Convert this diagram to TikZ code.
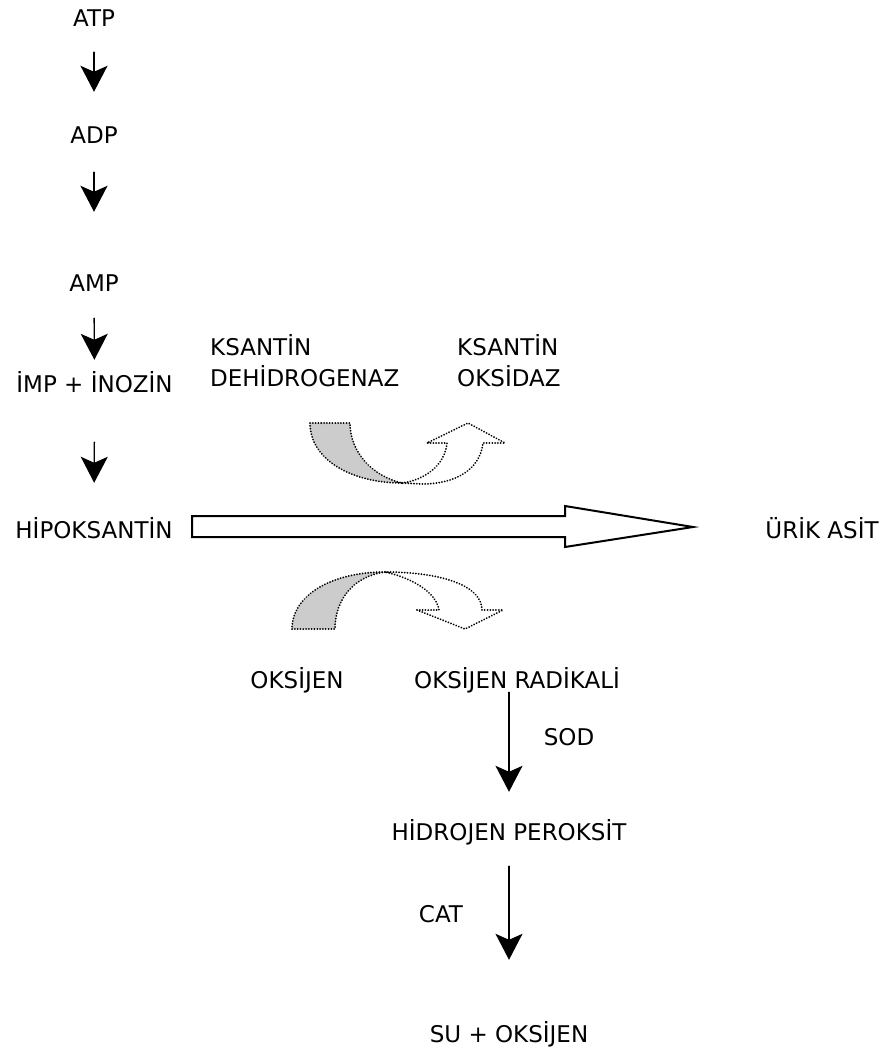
\documentclass[tikz,border=0pt]{standalone}
\usepackage{fontspec}
\setmainfont{DejaVu Sans}
\usetikzlibrary{arrows.meta}
\tikzset{
  lbl/.style={inner sep=0pt,text height=17pt,text depth=0pt,font=\fontsize{23}{31}\selectfont},
  mlbl/.style={inner sep=0pt,align=left,anchor=base west,font=\fontsize{23}{31}\selectfont},
  dnarr/.style={line width=1.4pt,-{Stealth[length=26pt,width=27pt,inset=6pt]}},
  enzfill/.style={line width=2pt,dash pattern=on 0.01pt off 2.8pt,fill=black!20},
  enzopen/.style={line width=2pt,dash pattern=on 0.01pt off 2.8pt,fill=white},
}
\begin{document}
\begin{tikzpicture}[x=1pt,y=-1pt,line cap=round,line join=round]
  \useasboundingbox (0,0) rectangle (886,1048);
  % left column
  \node[lbl] (atp) at (94,18.5) {ATP};
  \node[lbl] (adp) at (94,135) {ADP};
  \node[lbl] (amp) at (94,283) {AMP};
  \node[lbl] (imp) at (94.5,384) {İMP + İNOZİN};
  \node[lbl] (hipo) at (94,530) {HİPOKSANTİN};
  \node[lbl] (urik) at (822,530) {ÜRİK ASİT};
  \draw[dnarr,shorten <=25pt,shorten >=34.5pt] (atp) -- (adp);
  \draw[dnarr,shorten <=28.5pt,shorten >=62.5pt] (adp) -- (amp);
  \draw[dnarr,shorten <=26.5pt,shorten >=15.5pt] (amp) -- (imp);
  \draw[dnarr,shorten <=49.5pt,shorten >=38.5pt] (imp) -- (hipo);
  % main hollow arrow
  \draw[line width=2pt,line cap=butt,line join=miter] (192,516) -- (565,516) -- (565,506) -- (693,527)
    -- (565,547) -- (565,537) -- (192,537) -- cycle;
  % enzymes
  \node[mlbl] (xdh) at (210,386.5) {KSANTİN\\DEHİDROGENAZ};
  \node[mlbl] (xo) at (457,386.5) {KSANTİN\\OKSİDAZ};
  \filldraw[enzfill] (310,423) -- (350,423) .. controls (350,452) and (372,476) .. (402,483)
    .. controls (352,483) and (310,460) .. (310,423) -- cycle;
  \filldraw[enzopen] (402,483) .. controls (425,480) and (445,465) .. (447,443) -- (427,443)
    -- (468,423) -- (505,443) -- (483,443) .. controls (480,470) and (455,484) .. (422,484) -- cycle;
  \filldraw[enzfill] (292,629) -- (335,629) .. controls (335,598) and (355,576) .. (385,572)
    .. controls (332,572) and (292,595) .. (292,629) -- cycle;
  \filldraw[enzopen] (385,572) .. controls (440,572) and (482,585) .. (482,610) -- (503,610)
    -- (465,629) -- (417,610) -- (439,610) .. controls (436,592) and (412,578) .. (385,572) -- cycle;
  % oxygen branch
  \node[lbl] (oks) at (297,680) {OKSİJEN};
  \node[lbl] (oksrad) at (517,680) {OKSİJEN RADİKALİ};
  \node[lbl] (hper) at (509,832) {HİDROJEN PEROKSİT};
  \node[lbl] (suoks) at (509,1034) {SU + OKSİJEN};
  \node[lbl] (sod) at (569,737) {SOD};
  \node[lbl] (cat) at (441,914) {CAT};
  \draw[dnarr,shorten <=3.5pt,shorten >=31.5pt] (hper |- oksrad.south) -- (hper.north);
  \draw[dnarr,shorten <=25.5pt,shorten >=65.5pt] (hper.south) -- (suoks.north);
\end{tikzpicture}
\end{document}
